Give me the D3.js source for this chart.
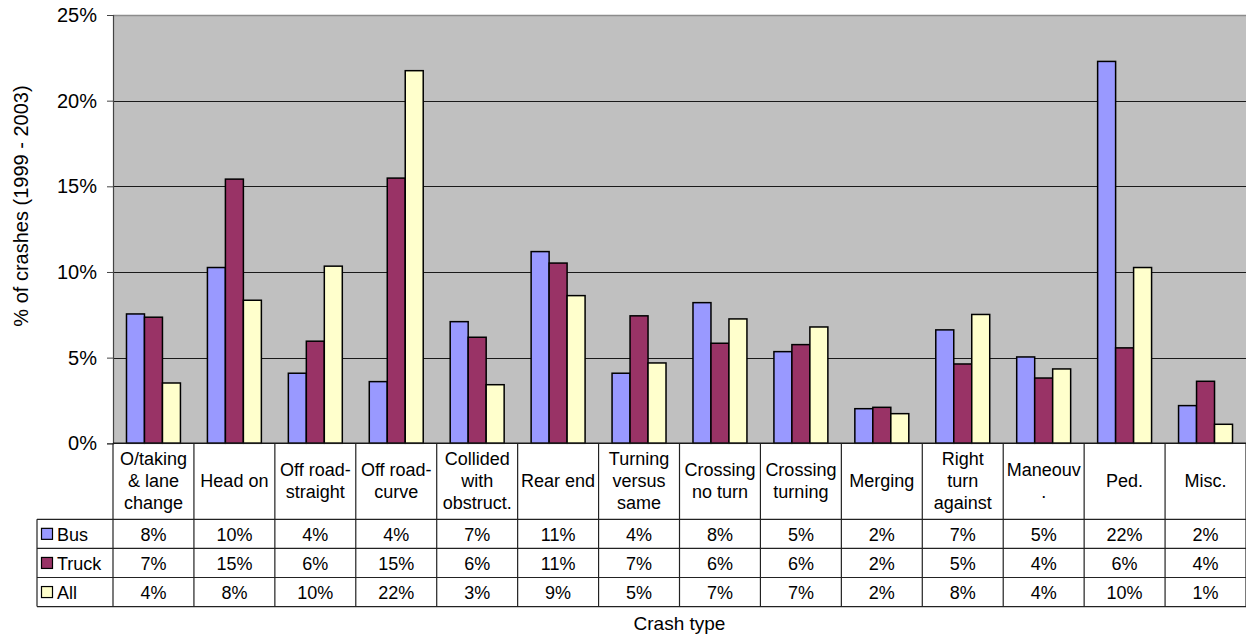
<!DOCTYPE html>
<html>
<head>
<meta charset="utf-8">
<script src="https://cdn.jsdelivr.net/npm/d3@7"></script>
<style>
  html, body { margin: 0; padding: 0; background: #fff; }
  svg { display: block; font-family: "Liberation Sans", Arial, sans-serif; }
</style>
</head>
<body>
<svg id="chart" width="1246" height="637"></svg>
<script>
// Crash types (line breaks as shown in the table header)
const categories = [
  "O/taking\n& lane\nchange", "Head on", "Off road-\nstraight", "Off road-\ncurve",
  "Collided\nwith\nobstruct.", "Rear end", "Turning\nversus\nsame", "Crossing\nno turn",
  "Crossing\nturning", "Merging", "Right\nturn\nagainst", "Maneouv\n.", "Ped.", "Misc."
];
const seriesNames = ["Bus", "Truck", "All"];
const seriesColors = ["#9999FF", "#993366", "#FFFFCC"];

// Share of crashes (%), 1999 - 2003
const busValues   = [7.55, 10.26, 4.09, 3.60, 7.10, 11.19, 4.09, 8.21, 5.35, 2.02, 6.62, 5.04, 22.29, 2.20];
const truckValues = [7.36, 15.42, 5.96, 15.48, 6.19, 10.52, 7.44, 5.84, 5.76, 2.10, 4.63, 3.81, 5.57, 3.62];
const allValues   = [3.52, 8.35, 10.34, 21.75, 3.42, 8.62, 4.69, 7.26, 6.79, 1.73, 7.52, 4.34, 10.26, 1.11];

const yTicks = [0, 5, 10, 15, 20, 25];
const yTitle = "% of crashes (1999 - 2003)";
const xTitle = "Crash type";

const seriesValues = [busValues, truckValues, allValues];
const pct = d3.format(".0%");

const svg = d3.select("#chart");

const plot = { left: 113, right: 1246, top: 15, bottom: 443.3 };
const table = { left: 37, headerBottom: 519.3, rowH: 29.1 };

const x0 = d3.scaleBand().domain(categories).range([plot.left, plot.right]).padding(0);
const x1 = d3.scaleBand().domain(seriesNames).range([0, x0.bandwidth()])
  .paddingInner(0).paddingOuter(0.75);
const y = d3.scaleLinear().domain([0, 25]).range([plot.bottom, plot.top]);

// Plot background
svg.append("rect")
  .attr("x", plot.left).attr("y", plot.top)
  .attr("width", plot.right - plot.left).attr("height", plot.bottom - plot.top)
  .attr("fill", "#C0C0C0");

// Top border of the plot area
svg.append("line")
  .attr("x1", plot.left).attr("x2", plot.right)
  .attr("y1", plot.top + 0.5).attr("y2", plot.top + 0.5)
  .attr("stroke", "#8c8c8c").attr("stroke-width", 1.5);

// Gridlines
svg.append("g").selectAll("line")
  .data(yTicks.filter(t => t > 0 && t < 25))
  .join("line")
  .attr("x1", plot.left).attr("x2", plot.right)
  .attr("y1", d => Math.round(y(d)) + 0.5).attr("y2", d => Math.round(y(d)) + 0.5)
  .attr("stroke", "#1a1a1a").attr("stroke-width", 1);

// Bars
const groups = svg.append("g").selectAll("g")
  .data(categories)
  .join("g")
  .attr("transform", d => `translate(${x0(d)},0)`);

groups.selectAll("rect")
  .data((d, i) => seriesNames.map((s, k) => ({ s, k, v: seriesValues[k][i] })))
  .join("rect")
  .attr("x", d => x1(d.s))
  .attr("y", d => y(d.v))
  .attr("width", x1.bandwidth())
  .attr("height", d => y(0) - y(d.v))
  .attr("fill", d => seriesColors[d.k])
  .attr("stroke", "#000")
  .attr("stroke-width", 1.5);

// Y axis
const yAxis = d3.axisLeft(y)
  .tickValues(yTicks)
  .tickFormat(d => d + "%")
  .tickSize(6)
  .tickPadding(10);

const yg = svg.append("g")
  .attr("transform", `translate(${plot.left},0)`)
  .call(yAxis);
yg.select(".domain").attr("stroke", "#444").attr("stroke-width", 1.2);
yg.selectAll(".tick line").attr("stroke", "#444");
yg.selectAll("text")
  .attr("font-size", 20)
  .attr("fill", "#000")
  .attr("font-family", "Liberation Sans, Arial, sans-serif");

// Baseline
svg.append("line")
  .attr("x1", plot.left).attr("x2", plot.right)
  .attr("y1", plot.bottom).attr("y2", plot.bottom)
  .attr("stroke", "#1a1a1a").attr("stroke-width", 1.5);

// Data table
const tbl = svg.append("g");
const rowTop = k => table.headerBottom + k * table.rowH;
const tableBottom = rowTop(3);

// Horizontal rules
[0, 1, 2, 3].forEach(k => {
  tbl.append("line")
    .attr("x1", table.left).attr("x2", plot.right)
    .attr("y1", rowTop(k)).attr("y2", rowTop(k))
    .attr("stroke", "#222").attr("stroke-width", 1.2);
});
// Legend column left edge
tbl.append("line")
  .attr("x1", table.left).attr("x2", table.left)
  .attr("y1", table.headerBottom).attr("y2", tableBottom)
  .attr("stroke", "#222").attr("stroke-width", 1.2);
// Category separators
tbl.selectAll("line.sep")
  .data(d3.range(categories.length + 1))
  .join("line")
  .attr("class", "sep")
  .attr("x1", i => plot.left + i * x0.step())
  .attr("x2", i => plot.left + i * x0.step())
  .attr("y1", plot.bottom).attr("y2", tableBottom)
  .attr("stroke", "#222").attr("stroke-width", 1.2);

// Category header labels
const lineH = 22;
const headerMid = (plot.bottom + table.headerBottom) / 2;
categories.forEach(c => {
  const lines = c.split("\n");
  const t = tbl.append("text")
    .attr("text-anchor", "middle")
    .attr("font-size", 18)
    .attr("fill", "#000");
  lines.forEach((ln, j) => {
    t.append("tspan")
      .attr("x", x0(c) + x0.bandwidth() / 2)
      .attr("y", headerMid + (j - (lines.length - 1) / 2) * lineH)
      .attr("dominant-baseline", "central")
      .text(ln);
  });
});

// Legend keys and series names
seriesNames.forEach((s, k) => {
  const cy = rowTop(k) + table.rowH / 2;
  tbl.append("rect")
    .attr("x", 41.5).attr("y", cy - 5.5)
    .attr("width", 11).attr("height", 11)
    .attr("fill", seriesColors[k])
    .attr("stroke", "#000").attr("stroke-width", 1.2);
  tbl.append("text")
    .attr("x", 57).attr("y", cy + 1)
    .attr("dominant-baseline", "central")
    .attr("font-size", 18)
    .attr("fill", "#000")
    .text(s);
  // Values
  categories.forEach((c, i) => {
    tbl.append("text")
      .attr("x", x0(c) + x0.bandwidth() / 2)
      .attr("y", cy + 1)
      .attr("text-anchor", "middle")
      .attr("dominant-baseline", "central")
      .attr("font-size", 18)
      .attr("fill", "#000")
      .text(pct(seriesValues[k][i] / 100));
  });
});

// Axis titles
svg.append("text")
  .attr("transform", "translate(21,206) rotate(-90)")
  .attr("text-anchor", "middle")
  .attr("dominant-baseline", "central")
  .attr("font-size", 20)
  .attr("fill", "#000")
  .text(yTitle);

svg.append("text")
  .attr("x", (plot.left + plot.right) / 2)
  .attr("y", 623)
  .attr("text-anchor", "middle")
  .attr("dominant-baseline", "central")
  .attr("font-size", 19)
  .attr("fill", "#000")
  .text(xTitle);
</script>
</body>
</html>
